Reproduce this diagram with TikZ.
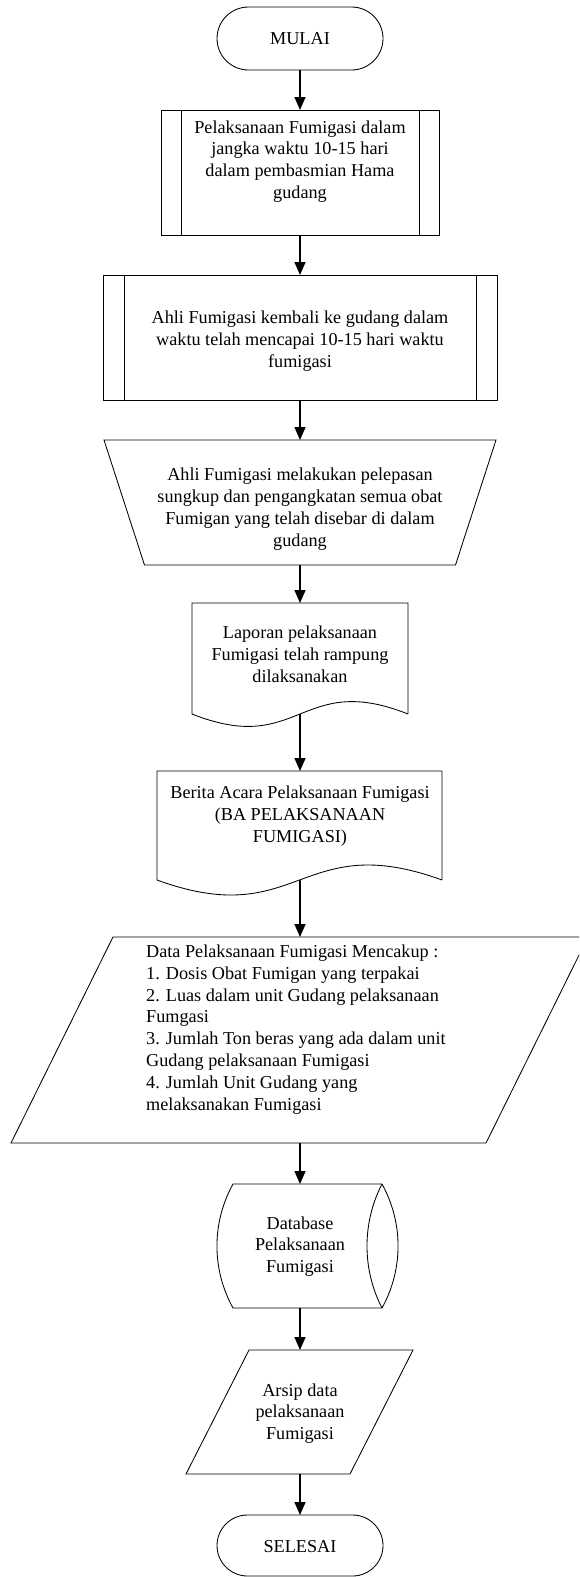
\documentclass[tikz,border=0pt]{standalone}
\usepackage{fontspec}
\setmainfont{Liberation Serif}
\usetikzlibrary{arrows.meta,calc}

\begin{document}
\begin{tikzpicture}[x=1pt,y=1pt,
  shapebox/.style={draw=none, inner sep=0pt, outer sep=0pt},
  outline/.style={draw=black, line width=0.85pt, line join=miter},
  lbl/.style={font=\fontsize{18.2}{21.8}\selectfont, align=center, inner sep=0pt},
  flow/.style={line width=1.5pt, -{Triangle[width=11pt,length=13pt]}},
]
% page area
\fill[white] (0,0) rectangle (579,-1577);
\clip (0,0) rectangle (579,-1577);

% ---- shape frames (invisible boxes used as anchors) ----
\node[shapebox, minimum width=166pt, minimum height=63pt]  (mulai)   at (300,-38.5)   {};
\node[shapebox, minimum width=278pt, minimum height=125pt] (proc1)   at (300,-172.5)  {};
\node[shapebox, minimum width=394pt, minimum height=125pt] (proc2)   at (300,-337.5)  {};
\node[shapebox, minimum width=392pt, minimum height=125pt] (manual)  at (300,-502.5)  {};
\node[shapebox, minimum width=216pt, minimum height=111pt] (lap)     at (300,-658.5)  {};
\node[shapebox, minimum width=285pt, minimum height=109pt] (ba)      at (299.5,-825.5){};
\node[shapebox, minimum width=577pt, minimum height=206pt] (data)    at (299.5,-1040) {};
\node[shapebox, minimum width=166pt, minimum height=124pt] (db)      at (300,-1246)   {};
\node[shapebox, minimum width=227pt, minimum height=124pt] (arsip)   at (299.5,-1412) {};
\node[shapebox, minimum width=166pt, minimum height=61pt]  (selesai) at (300,-1545.5) {};

% ---- outlines ----
% terminators
\draw[outline, rounded corners=31.5pt] (mulai.south west) rectangle (mulai.north east);
\draw[outline, rounded corners=30.5pt] (selesai.south west) rectangle (selesai.north east);

% predefined processes
\draw[outline] (proc1.south west) rectangle (proc1.north east);
\draw[outline] ($(proc1.north west)+(20,0)$) -- ($(proc1.south west)+(20,0)$);
\draw[outline] ($(proc1.north east)+(-20,0)$) -- ($(proc1.south east)+(-20,0)$);
\draw[outline] (proc2.south west) rectangle (proc2.north east);
\draw[outline] ($(proc2.north west)+(21,0)$) -- ($(proc2.south west)+(21,0)$);
\draw[outline] ($(proc2.north east)+(-21,0)$) -- ($(proc2.south east)+(-21,0)$);

% manual operation
\draw[outline] (manual.north west) -- (manual.north east)
  -- ($(manual.south east)+(-40.5,0)$) -- ($(manual.south west)+(40.5,0)$) -- cycle;

% documents with wavy bottom edge
\draw[outline] (lap.south east) -- (lap.north east) -- (lap.north west) -- (lap.south west)
  .. controls ($(lap.south)+(0,-43)$) and ($(lap.south)+(0,43)$) .. (lap.south east);
\draw[outline] (ba.south east) -- (ba.north east) -- (ba.north west) -- (ba.south west)
  .. controls ($(ba.south)+(0,-52)$) and ($(ba.south)+(0,52)$) .. (ba.south east);

% data (parallelograms)
\draw[outline] ($(data.north west)+(102,0)$) -- (data.north east)
  -- ($(data.south east)+(-102,0)$) -- (data.south west) -- cycle;
\draw[outline] ($(arsip.north west)+(63,0)$) -- (arsip.north east)
  -- ($(arsip.south east)+(-63,0)$) -- (arsip.south west) -- cycle;

% stored data
\coordinate (dbnw) at ($(db.north west)+(16,0)$);
\coordinate (dbsw) at ($(db.south west)+(16,0)$);
\coordinate (dbne) at ($(db.north east)+(-1,0)$);
\coordinate (dbse) at ($(db.south east)+(-1,0)$);
\draw[outline] (dbse) -- (dbsw)
  .. controls +(-21.4,38.6) and +(-21.4,-38.6) .. (dbnw) -- (dbne)
  .. controls +(21.4,-38.6) and +(21.4,38.6) .. (dbse);
\draw[outline] (dbne) .. controls +(-20,-38.6) and +(-20,38.6) .. (dbse);

% ---- labels ----
\node[lbl] (mulai-t) at (300,-38.5) {MULAI};
\node[lbl] (proc1-t) at (300,-161.5) {Pelaksanaan Fumigasi dalam\\jangka waktu 10-15 hari\\dalam pembasmian Hama\\gudang};
\node[lbl] (proc2-t) at (300,-341) {Ahli Fumigasi kembali ke gudang dalam\\waktu telah mencapai 10-15 hari waktu\\fumigasi};
\node[lbl] (manual-t) at (300,-509) {Ahli Fumigasi melakukan pelepasan\\sungkup dan pengangkatan semua obat\\Fumigan yang telah disebar di dalam\\gudang};
\node[lbl] (lap-t) at (300,-654) {Laporan pelaksanaan\\Fumigasi telah rampung\\dilaksanakan};
\node[lbl] (ba-t) at (300,-816) {Berita Acara Pelaksanaan Fumigasi\\(BA PELAKSANAAN\\FUMIGASI)};
\node[lbl, align=left, anchor=west] (data-t) at (146,-1029.5) {Data Pelaksanaan Fumigasi Mencakup :\\1. Dosis Obat Fumigan yang terpakai\\2. Luas dalam unit Gudang pelaksanaan\\Fumgasi\\3. Jumlah Ton beras yang ada dalam unit\\Gudang pelaksanaan Fumigasi\\4. Jumlah Unit Gudang yang\\melaksanakan Fumigasi};
\node[lbl] (db-t) at (300,-1246.5) {Database\\Pelaksanaan\\Fumigasi};
\node[lbl] (arsip-t) at (300,-1413.5) {Arsip data\\pelaksanaan\\Fumigasi};
\node[lbl] (selesai-t) at (300,-1546.5) {SELESAI};

% ---- connectors ----
\draw[flow] (mulai.south) -- (mulai.south |- proc1.north);
\draw[flow] (proc1.south) -- (proc1.south |- proc2.north);
\draw[flow] (proc2.south) -- (proc2.south |- manual.north);
\draw[flow] (manual.south) -- (manual.south |- lap.north);
\draw[flow] (lap.south) -- (lap.south |- ba.north);
\draw[flow] (ba.south -| lap.south) -- (lap.south |- data.north);
\draw[flow] (data.south -| db.north) -- (db.north);
\draw[flow] (db.south) -- (db.south |- arsip.north);
\draw[flow] (arsip.south -| db.south) -- (db.south |- selesai.north);
\end{tikzpicture}
\end{document}
